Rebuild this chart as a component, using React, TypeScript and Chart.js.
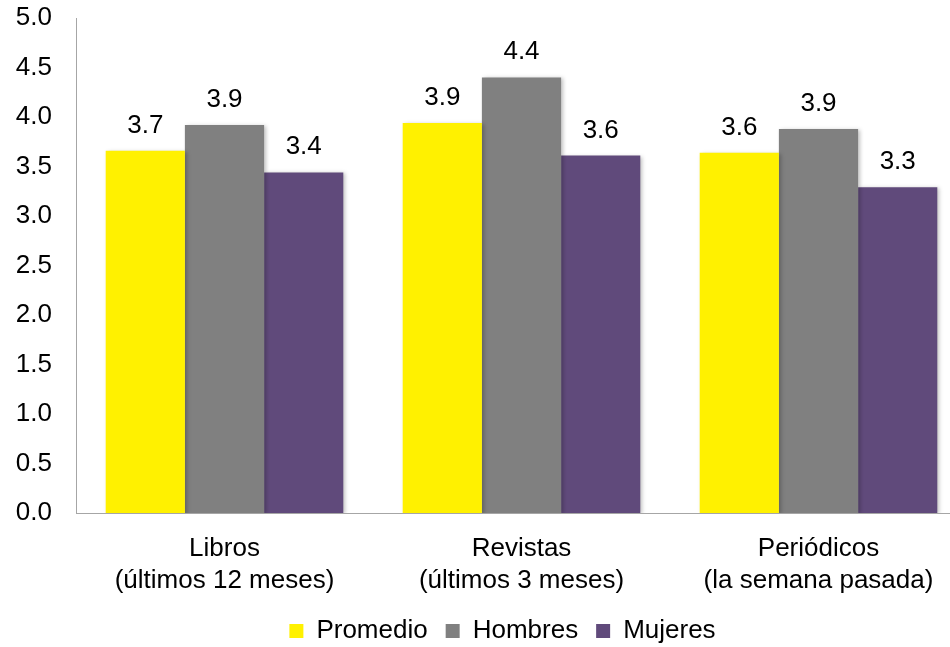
import React, { useEffect, useRef } from "react";
import { Chart, registerables } from "chart.js";

Chart.register(...registerables);

const categories: string[][] = [
  ["Libros", "(últimos 12 meses)"],
  ["Revistas", "(últimos 3 meses)"],
  ["Periódicos", "(la semana pasada)"],
];
const seriesNames = ["Promedio", "Hombres", "Mujeres"];
const promedio = [3.66, 3.94, 3.64];
const hombres = [3.92, 4.4, 3.88];
const mujeres = [3.44, 3.61, 3.29];
const seriesColors = ["#FFF100", "#808080", "#604A7B"];
const yTickStep = 0.5;
const yMax = 5;

const FONT = "'Liberation Sans', Arial, sans-serif";
const FS = 26;

const shadowPlugin = {
  id: "barShadow",
  beforeDatasetsDraw(chart: any) {
    const ctx = chart.ctx;
    ctx.save();
    ctx.shadowColor = "rgba(0,0,0,0.25)";
    ctx.shadowBlur = 4;
    ctx.shadowOffsetX = 2;
    ctx.shadowOffsetY = 1;
  },
  afterDatasetsDraw(chart: any) {
    chart.ctx.restore();
  },
};

const legendShift = {
  id: "legendShift",
  afterLayout(chart: any) {
    const lg = chart.legend;
    if (lg) {
      lg.left += 19;
      lg.right += 19;
    }
  },
};

const labelPlugin = {
  id: "valueLabels",
  afterDraw(chart: any) {
    const ctx = chart.ctx;
    ctx.save();
    ctx.font = `${FS}px ${FONT}`;
    ctx.fillStyle = "#000";
    ctx.textAlign = "center";
    ctx.textBaseline = "alphabetic";
    chart.data.datasets.forEach((ds: any, i: number) => {
      const meta = chart.getDatasetMeta(i);
      meta.data.forEach((bar: any, j: number) => {
        const v = ds.data[j] as number;
        ctx.fillText(v.toFixed(1), bar.x, bar.y - 18);
      });
    });
    ctx.restore();
  },
};

export default function App() {
  const ref = useRef<HTMLCanvasElement>(null);
  useEffect(() => {
    if (!ref.current) return;
    const values = [promedio, hombres, mujeres];
    const chart = new Chart(ref.current, {
      type: "bar",
      data: {
        labels: categories,
        datasets: seriesNames.map((name, i) => ({
          label: name,
          data: values[i],
          backgroundColor: seriesColors[i],
          borderWidth: 0,
          categoryPercentage: 0.8,
          barPercentage: 1.0,
        })),
      },
      options: {
        responsive: false,
        animation: false,
        devicePixelRatio: 1,
        layout: { padding: { left: 0, right: 13, top: 0, bottom: 0 } },
        plugins: {
          tooltip: { enabled: false },
          legend: {
            position: "bottom",
            labels: {
              boxWidth: 14,
              boxHeight: 14,
              padding: 18,
              color: "#000",
              font: { size: FS, family: FONT },
            },
          },
        },
        scales: {
          x: {
            grid: { display: false },
            border: { display: true, color: "#A6A6A6", width: 1 },
            ticks: {
              color: "#000",
              padding: 12,
              maxRotation: 0,
              autoSkip: false,
              font: { size: FS, family: FONT, lineHeight: 1.23 },
            },
            afterFit(scale: any) {
              scale.height = 87;
            },
          },
          y: {
            min: 0,
            max: yMax,
            grid: { display: false },
            border: { display: true, color: "#A6A6A6", width: 1 },
            ticks: {
              stepSize: yTickStep,
              color: "#000",
              padding: 16,
              font: { size: FS, family: FONT },
              callback: (v: any) => Number(v).toFixed(1),
            },
            afterFit(scale: any) {
              scale.width = 76;
              scale.paddingTop = 18;
              scale.paddingBottom = 0;
            },
          },
        },
      },
      plugins: [shadowPlugin, labelPlugin, legendShift],
    });
    return () => chart.destroy();
  }, []);
  return (
    <div
      style={{
        position: "fixed",
        left: 0,
        top: 0,
        width: 950,
        height: 647,
        overflow: "hidden",
        background: "#fff",
      }}
    >
      <canvas ref={ref} width={980} height={654} style={{ display: "block" }} />
    </div>
  );
}
